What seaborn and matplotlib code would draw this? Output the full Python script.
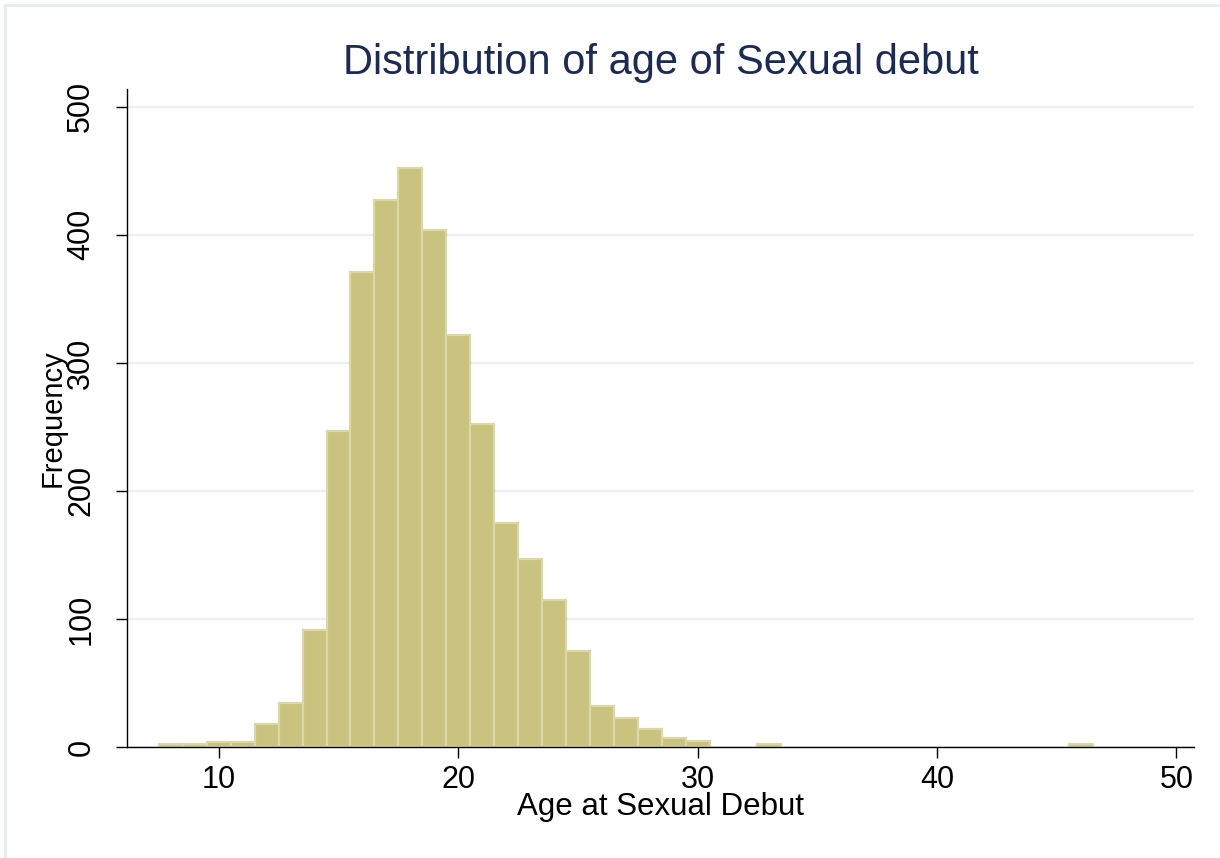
import matplotlib

matplotlib.use("Agg")
import matplotlib.pyplot as plt
import seaborn as sns
from matplotlib.patches import Rectangle

# age at sexual debut (years) and number of respondents
AGES = [8, 9, 10, 11, 12, 13, 14, 15, 16, 17, 18, 19, 20, 21, 22, 23, 24,
        25, 26, 27, 28, 29, 30, 33, 46]
COUNTS = [2, 2, 4, 4, 18, 34, 91, 247, 371, 427, 452, 404, 322, 252, 175,
          147, 115, 75, 32, 23, 14, 7, 5, 2, 2]

X_TICKS = [10, 20, 30, 40, 50]
Y_TICKS = [0, 100, 200, 300, 400, 500]

TITLE = "Distribution of age of Sexual debut"
X_LABEL = "Age at Sexual Debut"
Y_LABEL = "Frequency"

BAR_FILL = "#C9C37F"
BAR_EDGE = "#DCD8A6"
GRID_COLOR = "#E8F0F2"
TITLE_COLOR = "#1C2B52"


def main() -> None:
    sns.set_style("ticks")
    plt.rcParams["font.family"] = ["Liberation Sans", "DejaVu Sans"]

    fig = plt.figure(figsize=(12.2, 8.58), dpi=100)
    ax = fig.add_axes([0.104, 0.1294, 0.875, 0.767])

    sns.histplot(
        x=AGES,
        weights=COUNTS,
        discrete=True,
        color=BAR_FILL,
        edgecolor=BAR_EDGE,
        linewidth=1.6,
        alpha=1,
        ax=ax,
    )
    # empty bins would leave a thin outline on the baseline
    for patch in list(ax.patches):
        if patch.get_height() == 0:
            patch.remove()

    ax.set_xlim(6.16, 50.75)
    ax.set_ylim(0, 514)
    ax.set_xticks(X_TICKS)
    ax.set_yticks(Y_TICKS)
    ax.set_yticklabels([str(v) for v in Y_TICKS], rotation=90, va="center")

    ax.grid(axis="y", color=GRID_COLOR, linewidth=1.6)
    ax.set_axisbelow(True)
    for side in ["top", "right"]:
        ax.spines[side].set_visible(False)
    for side in ["left", "bottom"]:
        ax.spines[side].set_color("black")
        ax.spines[side].set_linewidth(1.0)

    ax.tick_params(axis="both", direction="out", length=8, width=1.0,
                   color="black", labelsize=22, labelcolor="black")
    ax.tick_params(axis="x", pad=5)
    ax.tick_params(axis="y", pad=14)

    ax.set_xlabel(X_LABEL, fontsize=22.5, color="black", labelpad=-2)
    ax.set_ylabel(Y_LABEL, fontsize=21, color="black", labelpad=0)
    ax.set_title(TITLE, fontsize=30, color=TITLE_COLOR, pad=11)

    # light frame of the graph region
    fig.patches.append(
        Rectangle((5 / 1220, -0.01), 1.0, 1 - 5 / 858 + 0.01,
                  transform=fig.transFigure, fill=False,
                  edgecolor="#E3ECEF", linewidth=2.0)
    )

    fig.savefig("out.png", dpi=100, facecolor="white")
    plt.close(fig)


if __name__ == "__main__":
    main()
